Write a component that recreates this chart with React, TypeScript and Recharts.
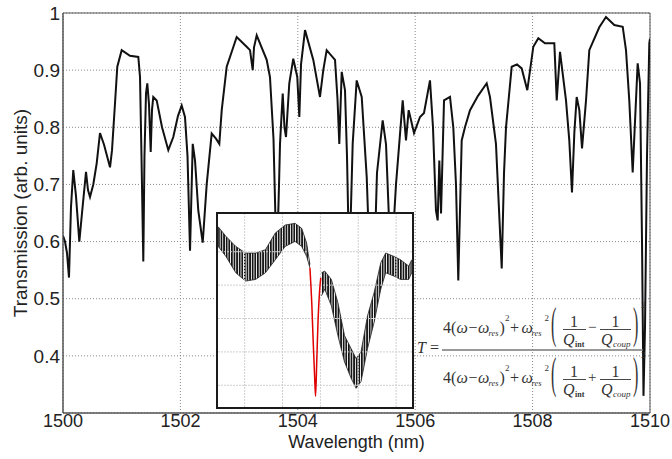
import React from 'react';
import {
  LineChart, Line, XAxis, YAxis, CartesianGrid, ReferenceArea, Label,
  ComposedChart, Area, ReferenceLine,
} from 'recharts';

// ---- main spectrum ----
const wavelengths = [
  1500.000,1500.034,1500.068,1500.102,1500.136,1500.175,1500.221,1500.278,1500.324,1500.392,
  1500.426,1500.460,1500.516,1500.574,1500.630,1500.698,1500.801,1500.835,1500.886,1500.925,
  1501.000,1501.141,1501.283,1501.312,1501.337,1501.368,1501.388,1501.414,1501.436,1501.465,
  1501.494,1501.516,1501.538,1501.596,1501.687,1501.794,1501.879,1501.959,1502.022,1502.078,
  1502.121,1502.164,1502.210,1502.249,1502.305,1502.380,1502.448,1502.533,1502.606,1502.663,
  1502.704,1502.789,1502.959,1503.129,1503.186,1503.232,1503.254,1503.300,1503.470,1503.526,
  1503.586,1503.641,1503.680,1503.697,1503.743,1503.773,1503.799,1503.855,1503.923,1503.991,
  1504.026,1504.055,1504.123,1504.264,1504.378,1504.434,1504.492,1504.634,1504.676,1504.707,
  1504.748,1504.804,1504.838,1504.877,1504.935,1505.003,1505.089,1505.174,1505.230,1505.315,
  1505.349,1505.446,1505.503,1505.588,1505.673,1505.787,1505.843,1505.889,1505.980,1506.082,
  1506.150,1506.252,1506.303,1506.354,1506.383,1506.411,1506.440,1506.491,1506.593,1506.649,
  1506.695,1506.734,1506.792,1506.848,1506.934,1507.070,1507.218,1507.274,1507.376,1507.474,
  1507.513,1507.547,1507.644,1507.734,1507.814,1507.910,1508.012,1508.097,1508.211,1508.370,
  1508.411,1508.467,1508.569,1508.625,1508.671,1508.711,1508.751,1508.796,1508.842,1508.910,
  1508.966,1509.136,1509.250,1509.392,1509.535,1509.591,1509.647,1509.705,1509.761,1509.790,
  1509.830,1509.864,1509.889,1509.915,1509.949,1509.988,1510.000,
];
const transmission = [
  0.61,0.60,0.58,0.537,0.66,0.725,0.68,0.60,0.65,0.722,
  0.69,0.678,0.70,0.737,0.79,0.77,0.73,0.76,0.842,0.906,
  0.935,0.925,0.923,0.888,0.75,0.565,0.75,0.859,0.877,0.84,
  0.757,0.83,0.853,0.847,0.80,0.76,0.783,0.82,0.838,0.818,
  0.75,0.584,0.771,0.742,0.654,0.598,0.70,0.789,0.78,0.771,
  0.83,0.906,0.958,0.941,0.935,0.90,0.94,0.961,0.918,0.888,
  0.78,0.55,0.70,0.771,0.859,0.80,0.783,0.877,0.92,0.888,
  0.818,0.91,0.97,0.918,0.853,0.90,0.935,0.918,0.85,0.771,
  0.897,0.865,0.75,0.55,0.771,0.882,0.853,0.713,0.55,0.60,
  0.72,0.812,0.77,0.55,0.70,0.847,0.777,0.83,0.79,0.818,
  0.825,0.882,0.80,0.654,0.637,0.742,0.649,0.847,0.853,0.80,
  0.70,0.532,0.777,0.80,0.83,0.855,0.877,0.853,0.771,0.553,
  0.72,0.80,0.906,0.91,0.903,0.865,0.941,0.956,0.947,0.947,
  0.847,0.932,0.847,0.777,0.686,0.79,0.853,0.83,0.763,0.847,
  0.935,0.975,0.993,0.979,0.976,0.935,0.847,0.721,0.847,0.912,
  0.877,0.60,0.33,0.45,0.75,0.947,0.955,
];
const xTicks = [1500, 1502, 1504, 1506, 1508, 1510];
const yTicks = [0.4, 0.5, 0.6, 0.7, 0.8, 0.9, 1];

// ---- inset (zoom on one resonance, arbitrary units) ----
const insetLeftX = [0.30,0.504,0.765,1.026,1.287,1.548,1.809,2.07,2.331,2.506,2.637,2.723];
const insetLeftLow = [5.16,4.86,4.37,4.12,4.17,4.37,4.76,5.16,5.31,5.16,4.86,4.52];
const insetLeftHigh = [5.75,5.46,5.16,4.96,4.96,5.06,5.56,5.80,5.85,5.70,5.26,4.62];
const insetRightX = [3.028,3.115,3.29,3.462,3.637,3.812,3.943,4.073,4.245,4.42,4.595,4.725,4.943,5.117,5.334,5.412];
const insetRightLow = [3.68,3.88,3.38,2.49,1.70,1.21,0.91,1.11,2.10,2.89,3.88,4.37,4.27,4.17,4.17,4.37];
const insetRightHigh = [4.37,4.42,4.17,3.48,2.49,2.10,1.80,2.00,3.08,3.78,4.67,4.96,4.86,4.76,4.57,4.76];
const fitX = [2.723,2.775,2.81,2.846,2.872,2.906,2.94,2.976,3.01];
const fitY = [4.52,3.38,2.30,1.31,0.67,1.80,2.99,3.78,4.22];
const insetGrid = [1, 2, 3, 4, 5];

const mainData = wavelengths.map((w, i) => ({ wl: w, t: transmission[i] }));

const insetRows: any[] = [];
insetLeftX.forEach((x, i) => insetRows.push({ x, band1: [insetLeftLow[i], insetLeftHigh[i]] }));
insetRightX.forEach((x, i) => insetRows.push({ x, band2: [insetRightLow[i], insetRightHigh[i]] }));
fitX.forEach((x, i) => {
  const row = insetRows.find((r) => r.x === x);
  if (row) row.fit = fitY[i];
  else insetRows.push({ x, fit: fitY[i] });
});
insetRows.sort((a, b) => a.x - b.x);

const AX_FONT = 'Liberation Sans, Arial, Helvetica, sans-serif';
const SERIF = 'Liberation Serif, Times New Roman, serif';

function FormulaRow({ b, op }: { b: number; op: string }) {
  const c = '#333';
  const sub = { fontSize: 8.5, fontStyle: 'italic' as const };
  return (
    <g fill={c} fontFamily={SERIF}>
      <text x={443} y={b} fontSize={16}>4(</text>
      <text x={456.5} y={b} fontSize={16} fontStyle="italic">ω</text>
      <text x={468.5} y={b} fontSize={16}>−</text>
      <text x={478} y={b} fontSize={16} fontStyle="italic">ω</text>
      <text x={488.5} y={b + 3} {...sub}>res</text>
      <text x={499.5} y={b} fontSize={16}>)</text>
      <text x={505} y={b - 12} fontSize={9}>2</text>
      <text x={510} y={b} fontSize={16}>+</text>
      <text x={521.5} y={b} fontSize={16} fontStyle="italic">ω</text>
      <text x={531.5} y={b + 3} {...sub}>res</text>
      <text x={544.5} y={b - 12} fontSize={9}>2</text>
      <g transform={`translate(551,${b + 5}) scale(1,2.8)`}>
        <text x={0} y={0} fontSize={16}>(</text>
      </g>
      <text x={570} y={b - 6} fontSize={16}>1</text>
      <line x1={563} x2={586} y1={b - 3.5} y2={b - 3.5} stroke={c} strokeWidth={0.9} />
      <text x={563} y={b + 12} fontSize={16} fontStyle="italic">Q</text>
      <text x={575} y={b + 14} fontSize={8} fontWeight="bold">int</text>
      <text x={588} y={b - 1} fontSize={15}>{op}</text>
      <text x={611.5} y={b - 6} fontSize={16}>1</text>
      <line x1={600} x2={631} y1={b - 3.5} y2={b - 3.5} stroke={c} strokeWidth={0.9} />
      <text x={601} y={b + 12} fontSize={16} fontStyle="italic">Q</text>
      <text x={613} y={b + 14} fontSize={9} fontStyle="italic">coup</text>
      <g transform={`translate(633,${b + 5}) scale(1,2.8)`}>
        <text x={0} y={0} fontSize={16}>)</text>
      </g>
      <text x={641} y={b - 25} fontSize={9}>2</text>
    </g>
  );
}

export default function App() {
  return (
    <div style={{ position: 'absolute', left: 0, top: 0, width: 672, height: 459, background: '#fff' }}>
      <LineChart
        width={672}
        height={459}
        data={mainData}
        margin={{ top: 13, right: 22, bottom: 0, left: 0 }}
      >
        <CartesianGrid stroke="#8a8a8a" strokeDasharray="1 2" />
        <XAxis
          dataKey="wl"
          type="number"
          domain={[1500, 1510]}
          ticks={xTicks}
          allowDataOverflow
          height={46}
          tickLine={false}
          tickSize={1}
          tickMargin={0}
          axisLine={{ stroke: '#555' }}
          tick={{ fontSize: 18, fill: '#222', fontFamily: AX_FONT }}
        >
          <Label
            value="Wavelength (nm)"
            position="insideBottom"
            offset={11}
            style={{ fontSize: 18, fill: '#222', fontFamily: AX_FONT }}
          />
        </XAxis>
        <YAxis
          type="number"
          domain={[0.3, 1]}
          ticks={yTicks}
          allowDataOverflow
          width={63}
          tickLine={false}
          tickSize={1}
          tickMargin={2}
          axisLine={{ stroke: '#555' }}
          tickFormatter={(v: number) => String(v)}
          tick={{ fontSize: 19, fill: '#222', fontFamily: AX_FONT }}
        >
          <Label
            value="Transmission (arb. units)"
            angle={-90}
            position="insideLeft"
            offset={20}
            style={{ fontSize: 19, fill: '#222', fontFamily: AX_FONT, textAnchor: 'middle' }}
          />
        </YAxis>
        <ReferenceArea x1={1500} x2={1510} y1={0.3} y2={1} fill="none" stroke="#555" strokeWidth={1} />
        <Line
          type="linear"
          dataKey="t"
          stroke="#111"
          strokeWidth={2}
          dot={false}
          isAnimationActive={false}
        />
      </LineChart>

      <div
        style={{
          position: 'absolute', left: 216, top: 212, width: 194, height: 193,
          border: '2px solid #1a1a1a', background: '#fff',
        }}
      >
        <ComposedChart width={194} height={193} data={insetRows} margin={{ top: 0, right: 0, bottom: 0, left: 0 }}>
          <defs>
            <pattern id="teeth" width="2.6" height="6" patternUnits="userSpaceOnUse">
              <rect x="0" y="0" width="1.7" height="6" fill="#111" />
            </pattern>
          </defs>
          <XAxis dataKey="x" type="number" domain={[0.295, 5.42]} hide allowDataOverflow />
          <YAxis type="number" domain={[0.35, 6.13]} hide allowDataOverflow />
          {insetGrid.map((g) => (
            <ReferenceLine key={'vx' + g} x={g} stroke="#cfcfcf" strokeDasharray="2 1" />
          ))}
          {insetGrid.map((g) => (
            <ReferenceLine key={'hy' + g} y={g} stroke="#cfcfcf" strokeDasharray="2 1" />
          ))}
          <Area
            type="linear"
            dataKey="band1"
            stroke="#222"
            strokeWidth={0.8}
            fill="url(#teeth)"
            fillOpacity={1}
            connectNulls={false}
            isAnimationActive={false}
          />
          <Area
            type="linear"
            dataKey="band2"
            stroke="#222"
            strokeWidth={0.8}
            fill="url(#teeth)"
            fillOpacity={1}
            connectNulls={false}
            isAnimationActive={false}
          />
          <Line
            type="monotone"
            dataKey="fit"
            stroke="#e00000"
            strokeWidth={1.5}
            dot={false}
            connectNulls
            isAnimationActive={false}
          />
        </ComposedChart>
      </div>

      <svg
        width={672}
        height={459}
        style={{ position: 'absolute', left: 0, top: 0, pointerEvents: 'none' }}
      >
        <text x={417} y={353} fontSize={16} fontFamily={SERIF} fill="#333">
          <tspan fontStyle="italic">T</tspan> =
        </text>
        <line x1={442} x2={643} y1={350} y2={350} stroke="#777" strokeWidth={1.4} />
        <FormulaRow b={333} op="−" />
        <FormulaRow b={383} op="+" />
      </svg>
    </div>
  );
}
